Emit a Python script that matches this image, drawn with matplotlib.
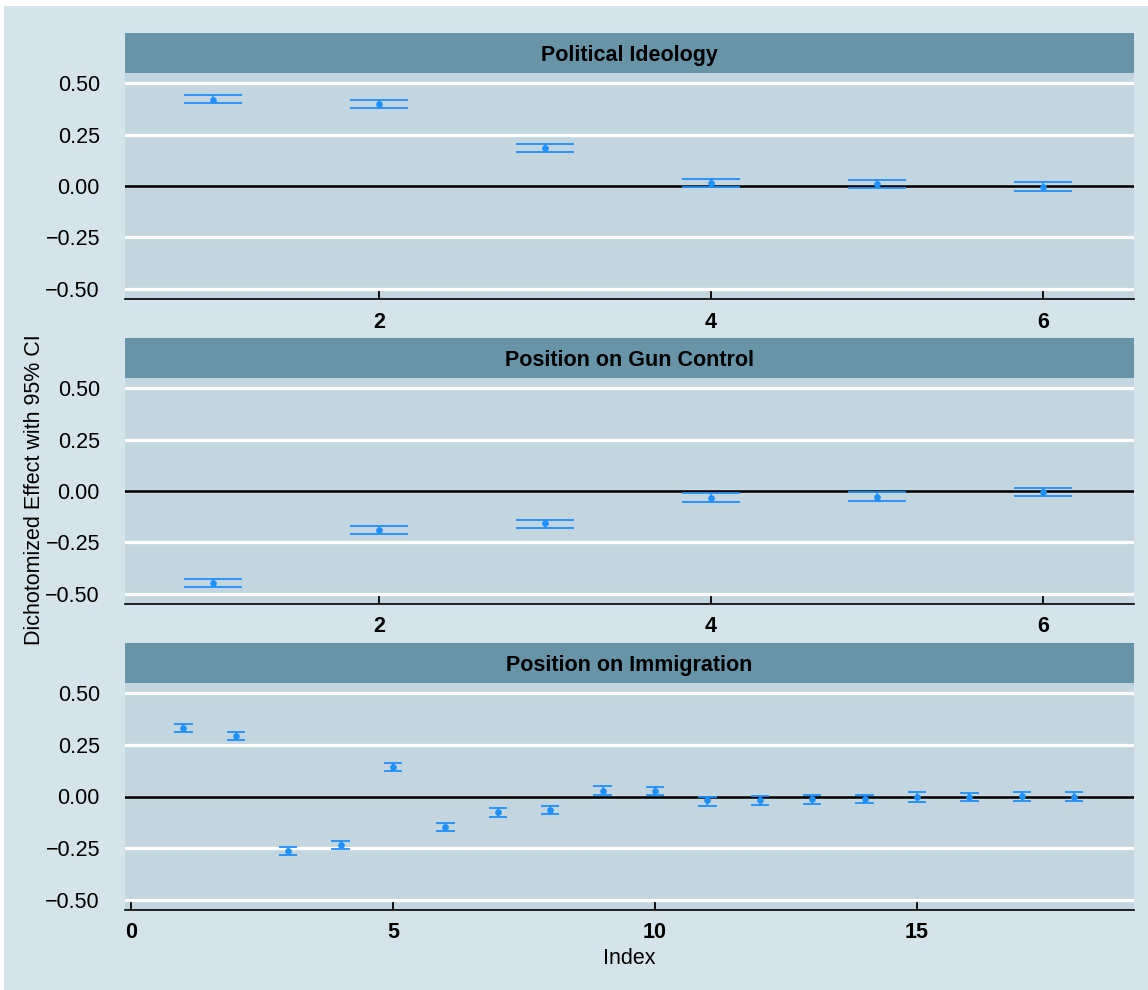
import matplotlib
matplotlib.use("Agg")
import matplotlib.pyplot as plt
from matplotlib.patches import Rectangle
import numpy as np

plt.rcParams['font.family'] = ['Liberation Sans', 'DejaVu Sans']

# facet titles
panels = ["Political Ideology", "Position on Gun Control", "Position on Immigration"]

# Political Ideology
ideo_x = [1, 2, 3, 4, 5, 6]
ideo_est = [0.420, 0.400, 0.185, 0.013, 0.011, -0.003]
ideo_lo = [0.402, 0.382, 0.167, -0.006, -0.010, -0.024]
ideo_hi = [0.443, 0.420, 0.204, 0.034, 0.031, 0.018]

# Position on Gun Control
gun_x = [1, 2, 3, 4, 5, 6]
gun_est = [-0.446, -0.190, -0.158, -0.033, -0.028, -0.005]
gun_lo = [-0.467, -0.209, -0.180, -0.054, -0.049, -0.026]
gun_hi = [-0.426, -0.170, -0.141, -0.012, -0.007, 0.016]

# Position on Immigration
imm_x = list(range(1, 19))
imm_est = [0.332, 0.293, -0.264, -0.236, 0.142, -0.147, -0.076, -0.065, 0.029,
           0.029, -0.019, -0.015, -0.013, -0.013, -0.003, -0.003, 0.001, 0.000]
imm_lo = [0.311, 0.272, -0.282, -0.254, 0.123, -0.167, -0.099, -0.087, 0.008,
          0.007, -0.044, -0.041, -0.036, -0.032, -0.027, -0.024, -0.022, -0.021]
imm_hi = [0.351, 0.312, -0.244, -0.217, 0.164, -0.128, -0.055, -0.044, 0.049,
          0.047, 0.000, 0.003, 0.005, 0.005, 0.021, 0.016, 0.022, 0.020]

y_ticks = [-0.50, -0.25, 0.00, 0.25, 0.50]
x_ticks = [[2, 4, 6], [2, 4, 6], [0, 5, 10, 15]]
x_lims = [(0.47, 6.55), (0.47, 6.55), (-0.115, 19.14)]

data = [(ideo_x, ideo_est, ideo_lo, ideo_hi),
        (gun_x, gun_est, gun_lo, gun_hi),
        (imm_x, imm_est, imm_lo, imm_hi)]

BG = "#d5e4eb"
PANEL = "#c3d6df"
STRIP = "#6794a7"
BLUE = "#1e90ff"
W, H = 1148, 990
FS = 15.5

fig = plt.figure(figsize=(W / 100, H / 100), dpi=100, facecolor="white")
fig.patches.append(Rectangle((4 / W, 0), 1 - 4 / W, 1 - 6 / H, transform=fig.transFigure,
                             facecolor=BG, edgecolor="none", zorder=-10))

left, right = 125, 1134
# (strip top, panel top, panel bottom) in pixels from top
rows = [(33, 73, 299), (338, 378, 604), (643, 683, 910)]
cap_w = 0.35

for i, (title, (xs, est, lo, hi)) in enumerate(zip(panels, data)):
    st, pt, pb = rows[i]
    ax = fig.add_axes([left / W, 1 - pb / H, (right - left) / W, (pb - pt) / H])
    ax.set_facecolor(PANEL)
    ax.set_xlim(*x_lims[i])
    ax.set_ylim(-0.55, 0.55)
    for s in ["top", "left", "right"]:
        ax.spines[s].set_visible(False)
    ax.spines["bottom"].set_linewidth(1.2)
    ax.spines["bottom"].set_color("black")
    ax.set_yticks(y_ticks)
    ax.set_yticklabels([f"{v:.2f}".replace("-", "\u2212") for v in y_ticks], fontsize=FS)
    ax.set_xticks(x_ticks[i])
    ax.set_xticklabels([str(v) for v in x_ticks[i]], fontsize=FS, fontweight="bold")
    ax.tick_params(axis="y", length=0, pad=18)
    ax.tick_params(axis="x", direction="in", length=8, width=1.3, pad=9, color="black")
    ax.yaxis.grid(True, color="white", linewidth=2.3)
    ax.set_axisbelow(True)
    ax.axhline(0, color="black", linewidth=1.9, zorder=2)

    xs = np.array(xs)
    ax.vlines(xs, lo, hi, color=BLUE, linewidth=1.1, zorder=3)
    ax.hlines(lo, xs - cap_w / 2, xs + cap_w / 2, color=BLUE, linewidth=1.3, zorder=3)
    ax.hlines(hi, xs - cap_w / 2, xs + cap_w / 2, color=BLUE, linewidth=1.3, zorder=3)
    ax.plot(xs, est, "o", color=BLUE, markersize=3.8, zorder=4)

    # facet strip
    sax = fig.add_axes([left / W, 1 - pt / H, (right - left) / W, (pt - st) / H])
    sax.set_facecolor(STRIP)
    sax.set_xticks([])
    sax.set_yticks([])
    for s in sax.spines.values():
        s.set_visible(False)
    sax.text(0.5, 0.45, title, transform=sax.transAxes, ha="center", va="center",
             fontsize=FS, fontweight="bold", color="black")

fig.text(35 / W, 1 - 490 / H, "Dichotomized Effect with 95% CI", rotation=90,
         ha="center", va="center", fontsize=FS)
fig.text((left + right) / 2 / W, 1 - 958 / H, "Index", ha="center", va="center", fontsize=FS)

fig.savefig("out.png", dpi=100, facecolor="white")
